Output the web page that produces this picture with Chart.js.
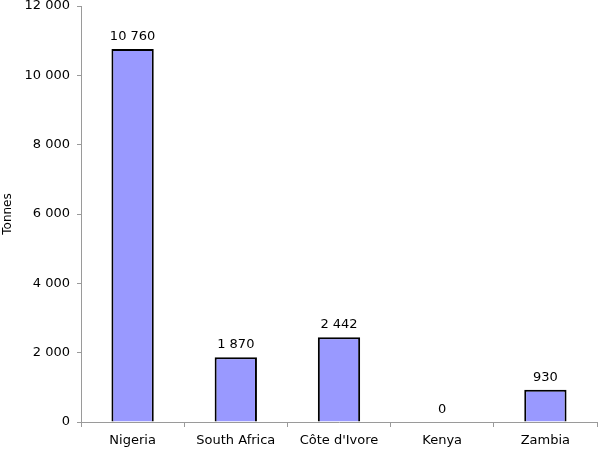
<!DOCTYPE html>
<html><head><meta charset="utf-8">
<script src="https://cdn.jsdelivr.net/npm/chart.js@4/dist/chart.umd.min.js"></script>
<style>html,body{margin:0;padding:0;background:#fff}#w{width:599px;height:449px}</style>
</head><body><div id="w"><canvas id="c"></canvas></div>
<script>
const categories = ["Nigeria", "South Africa", "Côte d'Ivore", "Kenya", "Zambia"];
const tonnes = [10760, 1870, 2442, 0, 930];
const yTicks = [0, 2000, 4000, 6000, 8000, 10000, 12000];

function fmt(v){ return String(v).replace(/\B(?=(\d{3})+(?!\d))/g, ' '); }

const labelPlugin = {
  id: 'labels',
  afterDatasetsDraw(chart){
    const ctx = chart.ctx;
    const meta = chart.getDatasetMeta(0);
    ctx.save();
    ctx.font = '13px "DejaVu Sans"';
    ctx.fillStyle = '#000';
    ctx.textAlign = 'center';
    ctx.textBaseline = 'bottom';
    meta.data.forEach((bar, i) => {
      ctx.fillText(fmt(tonnes[i]), bar.x, bar.y - 6);
    });
    ctx.restore();
  }
};

Chart.defaults.font.family = '"DejaVu Sans"';
Chart.defaults.font.size = 13;
Chart.defaults.color = '#000';

new Chart(document.getElementById('c'), {
  type: 'bar',
  data: { labels: categories, datasets: [{
    data: tonnes, backgroundColor: '#9999ff', borderColor: '#000', borderWidth: 2,
    barPercentage: 0.41, categoryPercentage: 1.0
  }]},
  options: {
    responsive: true, maintainAspectRatio: false, animation: false,
    layout: { padding: { top: 6, right: 2, left: 0, bottom: 0 } },
    plugins: { legend: { display: false }, tooltip: { enabled: false } },
    scales: {
      x: {
        offset: true,
        afterFit(s){ s.height = 27; },
        border: { color: '#9a9a9a', width: 1 },
        grid: { offset: true, drawOnChartArea: false, drawTicks: true, tickLength: 5, color: '#9a9a9a' },
        ticks: { padding: 6, font: { size: 13 }, maxRotation: 0 }
      },
      y: {
        min: 0, max: 12000,
        afterBuildTicks(s){ s.ticks = yTicks.map(v => ({ value: v })); },
        afterFit(s){ s.width = 81; s.paddingTop = 0; s.paddingBottom = 0; },
        border: { color: '#9a9a9a', width: 1 },
        grid: { drawOnChartArea: false, drawTicks: true, tickLength: 4, color: '#9a9a9a' },
        ticks: { padding: 7, callback: v => fmt(v) },
        title: { display: true, text: 'Tonnes', font: { size: 12 }, padding: { top: 1, bottom: 0 } }
      }
    }
  },
  plugins: [labelPlugin]
});
</script></body></html>
